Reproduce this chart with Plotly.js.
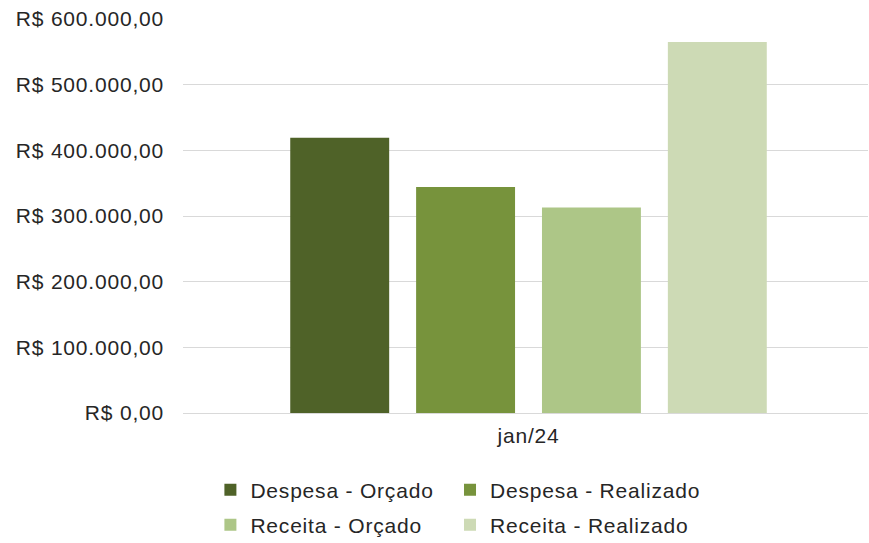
<!DOCTYPE html>
<html><head><meta charset="utf-8">
<script src="https://cdn.plot.ly/plotly-3.0.1.min.js"></script>
<style>html,body{margin:0;padding:0;background:#fff}#chart{width:869px;height:543px}
svg text{letter-spacing:0.8px}</style>
</head><body><div id="chart"></div>
<script>
const categories = ["jan/24"];
const seriesNames = ["Despesa - Orçado", "Despesa - Realizado", "Receita - Orçado", "Receita - Realizado"];
const despesaOrcado = [419000];
const despesaRealizado = [344000];
const receitaOrcado = [313000];
const receitaRealizado = [565000];
const colors = ["#4F6228", "#77933C", "#ADC687", "#CDDAB5"];
const seriesValues = [despesaOrcado, despesaRealizado, receitaOrcado, receitaRealizado];
const legendIds = ["legend", "legend2", "legend3", "legend4"];
const legendX = [0.04, 0.3898, 0.04, 0.3898];
const legendY = [-0.1954, -0.1954, -0.2843, -0.2843];

const traces = seriesNames.map((n, i) => ({
  type: "bar", name: n, x: categories, y: seriesValues[i],
  marker: {color: colors[i]}, hoverinfo: "skip", legend: legendIds[i]
}));

const font = {family: "Liberation Sans, Arial, sans-serif", size: 21, color: "#262626"};
const layout = {
  width: 869, height: 543,
  margin: {l: 183, r: 1, t: 19, b: 130, autoexpand: false},
  paper_bgcolor: "#fff", plot_bgcolor: "#fff",
  font: font,
  separators: ",.",
  barmode: "group", bargap: 0.265, bargroupgap: 0.214,
  showlegend: true,
  xaxis: {showgrid: false, showline: true, linecolor: "#d9d9d9", linewidth: 1,
    range: [-0.5044, 0.4956], ticks: "", ticklabelstandoff: 4, tickfont: font, fixedrange: true},
  yaxis: {range: [0, 600000], dtick: 100000, tickprefix: "R$ ", tickformat: ",.2f",
    showgrid: true, gridcolor: "#d9d9d9", gridwidth: 1, zeroline: false,
    showline: false, ticks: "", ticklabelstandoff: 18, tickfont: font, fixedrange: true}
};
legendIds.forEach((id, i) => {
  layout[id] = {orientation: "h", x: legendX[i], xanchor: "left", y: legendY[i], yanchor: "middle",
    font: font, itemclick: false};
});
Plotly.newPlot("chart", traces, layout, {displayModeBar: false, staticPlot: true});
</script></body></html>
